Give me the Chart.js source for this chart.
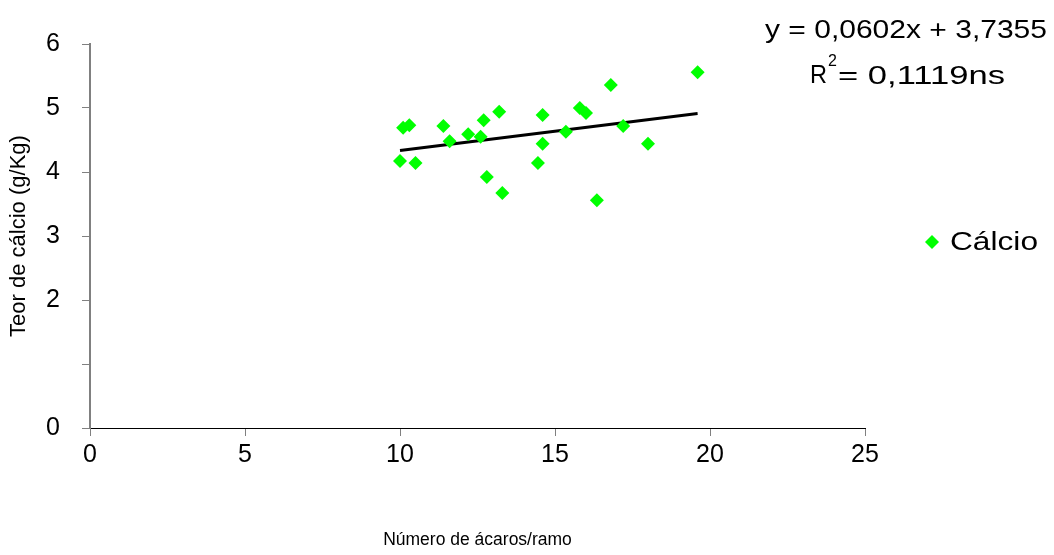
<!DOCTYPE html>
<html><head><meta charset="utf-8">
<script src="https://cdn.jsdelivr.net/npm/chart.js@4/dist/chart.umd.min.js"></script>
<style>html,body{margin:0;background:#fff}#wrap{width:1054px;height:555px}</style>
</head><body><div id="wrap"><canvas id="c"></canvas></div>
<script>
// mites per branch vs calcium content
const miteCounts = [10.0, 10.1, 10.3, 10.5, 11.4, 11.6, 12.2, 12.7, 12.6, 12.8, 13.2, 13.3,
  14.45, 14.6, 14.6, 15.35, 15.8, 16.0, 16.35, 16.8, 17.2, 18.0, 19.6];
const calcium = [4.17, 4.69, 4.73, 4.14, 4.72, 4.48, 4.59, 4.81, 4.55, 3.92, 4.94, 3.67,
  4.14, 4.44, 4.89, 4.63, 5.0, 4.92, 3.56, 5.36, 4.72, 4.44, 5.56];
const slope = 0.0602, intercept = 3.7355;
const trendX = [10.0, 19.6];

const font = 'Liberation Sans, Arial, sans-serif';

// draw text fitted to a given width, left edge at x
function fitText(ctx, text, x, y, w) {
  const m = ctx.measureText(text).width;
  ctx.save();
  ctx.translate(x, y);
  ctx.scale(w / m, 1);
  ctx.textAlign = 'left';
  ctx.fillText(text, 0, 0);
  ctx.restore();
}

const textPlugin = {
  id: 'texts',
  afterDraw(chart) {
    const { ctx } = chart;
    ctx.save();
    ctx.fillStyle = '#000';
    ctx.textBaseline = 'middle';
    ctx.font = `26px ${font}`;
    fitText(ctx, 'y = 0,0602x + 3,7355', 765, 31, 282);
    fitText(ctx, 'R', 810, 76, 17);
    fitText(ctx, '= 0,1119ns', 838, 77, 167);
    ctx.font = `16px ${font}`;
    ctx.textAlign = 'left';
    ctx.fillText('2', 828, 62);
    // legend
    ctx.fillStyle = '#00ff00';
    ctx.beginPath();
    ctx.moveTo(932, 235); ctx.lineTo(939, 242); ctx.lineTo(932, 249); ctx.lineTo(925, 242);
    ctx.fill();
    ctx.fillStyle = '#000';
    ctx.font = `26px ${font}`;
    fitText(ctx, 'Cálcio', 950, 243, 88);
    ctx.restore();
  }
};

new Chart(document.getElementById('c'), {
  type: 'scatter',
  data: {
    datasets: [
      {
        label: 'Cálcio',
        data: miteCounts.map((x, i) => ({ x, y: calcium[i] })),
        pointStyle: 'rectRot', pointRadius: 7, pointHoverRadius: 7,
        backgroundColor: '#00ff00', borderColor: '#00ff00', borderWidth: 0
      },
      {
        label: 'trend',
        type: 'line',
        data: trendX.map(x => ({ x, y: slope * x + intercept })),
        borderColor: '#000', borderWidth: 3, pointRadius: 0, showLine: true
      }
    ]
  },
  options: {
    responsive: true, maintainAspectRatio: false, animation: false,
    layout: { padding: { top: 44, right: 189, left: 0, bottom: 0 } },
    plugins: { legend: { display: false }, tooltip: { enabled: false } },
    scales: {
      x: {
        type: 'linear', min: 0, max: 25,
        ticks: { stepSize: 5, color: '#000', font: { family: font, size: 25 }, padding: 4 },
        grid: { drawOnChartArea: false, tickLength: 8, color: '#808080' },
        border: { color: '#000' },
        title: { display: true, text: 'Número de ácaros/ramo', color: '#000', font: { family: font, size: 17.5 }, padding: { top: 64 } },
        afterFit(s) { s.height = 127; }
      },
      y: {
        min: 0, max: 6,
        ticks: { stepSize: 1, color: '#000', font: { family: font, size: 25 }, padding: 22,
          callback: v => v === 1 ? '' : v },
        grid: { drawOnChartArea: false, tickLength: 8, color: '#808080' },
        border: { color: '#808080', width: 2 },
        title: { display: true, text: 'Teor de cálcio (g/Kg)', color: '#000', font: { family: font, size: 22 }, padding: { top: 6, bottom: 0 } },
        afterFit(s) { s.width = 90; }
      }
    }
  },
  plugins: [textPlugin]
});
</script></body></html>
